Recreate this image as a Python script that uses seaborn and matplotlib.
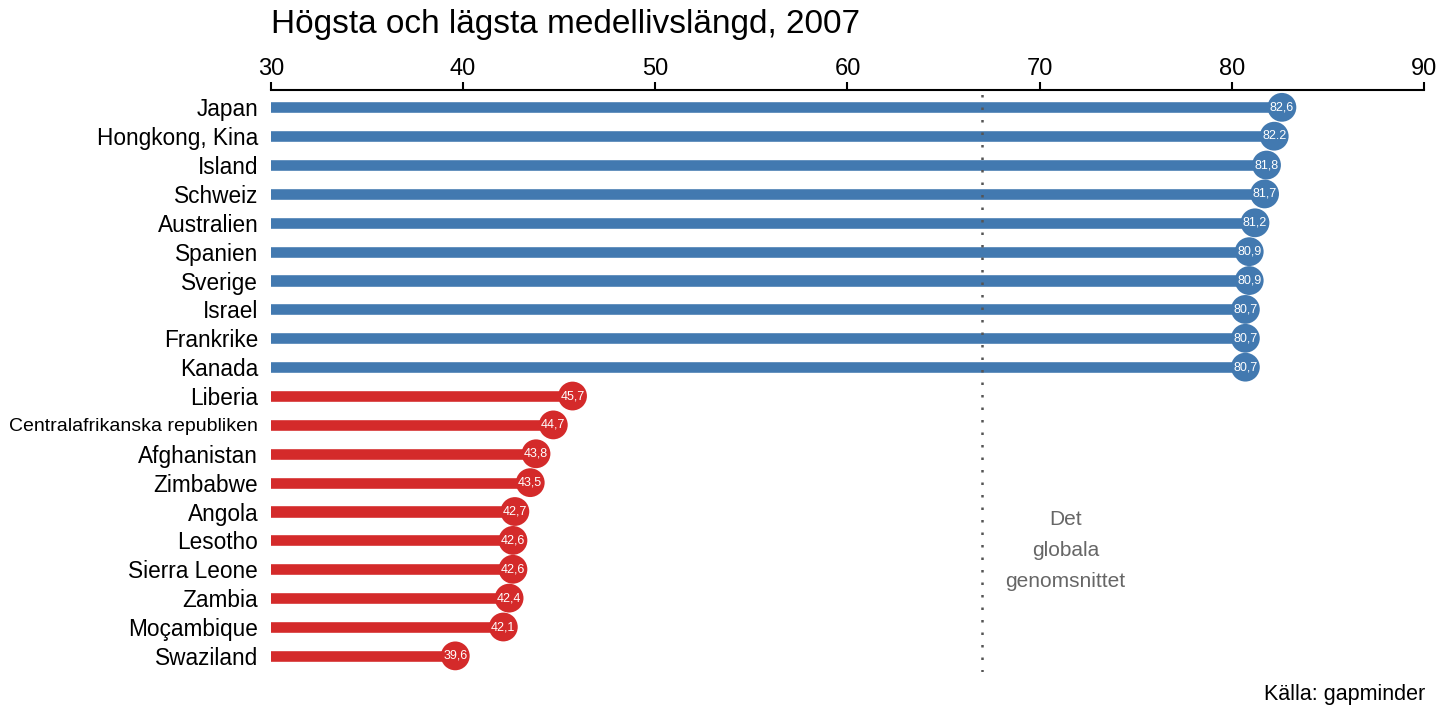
import numpy as np
import pandas as pd
import matplotlib
matplotlib.use("Agg")
import matplotlib.pyplot as plt
import seaborn as sns

# --- data ---
countries = ["Japan", "Hongkong, Kina", "Island", "Schweiz", "Australien",
             "Spanien", "Sverige", "Israel", "Frankrike", "Kanada",
             "Liberia", "Centralafrikanska republiken", "Afghanistan", "Zimbabwe",
             "Angola", "Lesotho", "Sierra Leone", "Zambia", "Moçambique", "Swaziland"]
life_exp = [82.6, 82.2, 81.8, 81.7, 81.2, 80.9, 80.9, 80.7, 80.7, 80.7,
            45.7, 44.7, 43.8, 43.5, 42.7, 42.6, 42.6, 42.4, 42.1, 39.6]
value_labels = ["82,6", "82.2", "81,8", "81,7", "81,2", "80,9", "80,9", "80,7", "80,7", "80,7",
                "45,7", "44,7", "43,8", "43,5", "42,7", "42,6", "42,6", "42,4", "42,1", "39,6"]
group = ["Högsta"] * 10 + ["Lägsta"] * 10
global_avg = 67.0

palette = {"Högsta": "#4279b0", "Lägsta": "#d42a2a"}

df = pd.DataFrame({"land": countries, "varde": life_exp, "grupp": group})

sns.set_theme(style="white")
plt.rcParams['font.family'] = ['Liberation Sans', 'DejaVu Sans']
plt.rcParams['text.color'] = 'black'
plt.rcParams['xtick.color'] = 'black'
plt.rcParams['ytick.color'] = 'black'

fig = plt.figure(figsize=(14.4, 7.2), dpi=100)
ax = fig.add_axes([0.188, 0.067, 0.801, 0.808])

sns.barplot(data=df, x="varde", y="land", hue="grupp", palette=palette,
            dodge=False, width=0.42, orient="h", legend=False, ax=ax,
            saturation=1)
sns.scatterplot(data=df, x="varde", y="land", hue="grupp", palette=palette,
                s=430, edgecolor="none", legend=False, ax=ax, zorder=3)

for i, (v, lab) in enumerate(zip(life_exp, value_labels)):
    ax.text(v, i, lab, color="white", fontsize=9, ha="center", va="center", zorder=4)

ax.axvline(global_avg, color="#555555", linestyle=(0, (1, 4)), linewidth=1.8, zorder=1)
ax.text(global_avg + 4.35, 15.35, "Det\nglobala\ngenomsnittet", color="#666666",
        fontsize=15, ha="center", va="center", linespacing=1.8)

ax.set_xlim(30, 90)
ax.set_ylim(len(countries) - 0.45, -0.6)
ax.xaxis.tick_top()
ax.set_xticks(range(30, 91, 10))
ax.tick_params(axis="x", direction="out", length=6, width=1.5, color="black",
               labelsize=17, pad=1, top=True, bottom=False, labelcolor="black")
ax.tick_params(axis="y", length=0, labelsize=16.3, pad=9, labelcolor="black")
for lbl in ax.get_yticklabels():
    if lbl.get_text() == "Centralafrikanska republiken":
        lbl.set_fontsize(14)
ax.set_xlabel("")
ax.set_ylabel("")
for s in ["bottom", "left", "right"]:
    ax.spines[s].set_visible(False)
ax.spines["top"].set_linewidth(1.5)
ax.spines["top"].set_color("black")

fig.text(0.188, 0.966, "Högsta och lägsta medellivslängd, 2007", fontsize=24,
         ha="left", va="center", color="black")
fig.text(0.99, 0.035, "Källa: gapminder", fontsize=15.5, ha="right", va="center",
         color="black")

fig.savefig("out.png", dpi=100, facecolor="white")
